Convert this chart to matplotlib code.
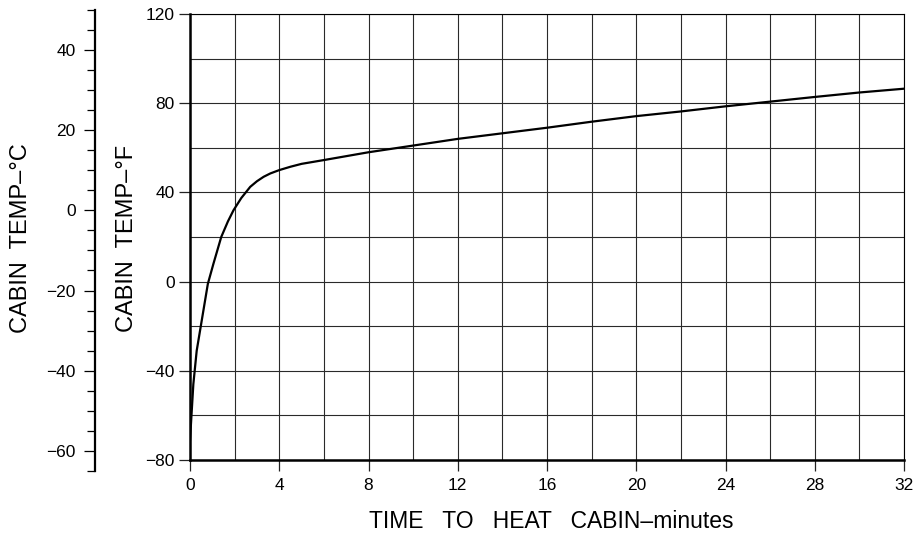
import numpy as np
import matplotlib.pyplot as plt
from matplotlib.ticker import MultipleLocator

plt.rcParams['font.family'] = ['Liberation Sans', 'DejaVu Sans']

# warm-up curve: time (min) vs cabin temperature (deg F)
minutes = [0, 0.15, 0.3, 0.5, 0.8, 1.05, 1.4, 1.7, 1.95, 2.3, 2.7, 3.0,
           3.3, 3.6, 4, 4.5, 5, 6, 8, 10, 12, 14, 16, 18, 20, 22, 24, 26,
           28, 30, 32]
temp_f = [-71, -46, -31, -19, -1, 8, 20, 27, 32, 37.5, 42.5, 45, 47,
          48.5, 50, 51.5, 52.8, 54.5, 58, 61, 64, 66.5, 69, 71.7, 74.2,
          76.3, 78.6, 80.7, 82.8, 84.8, 86.5]

x_ticks = [0, 4, 8, 12, 16, 20, 24, 28, 32]
f_ticks = [-80, -40, 0, 40, 80, 120]
c_ticks = [-60, -40, -20, 0, 20, 40]
c_range = (-65, 50)

W, H = 914, 540
f_lo, f_hi = -80, 120


def c2f(c):
    return c * 9 / 5 + 32


fig = plt.figure(figsize=(W / 100, H / 100), dpi=100)
ax_l, ax_b, ax_w, ax_h = 190 / W, 80 / H, 714 / W, 446 / H
ax = fig.add_axes([ax_l, ax_b, ax_w, ax_h])

ax.plot(minutes, temp_f, color='black', lw=1.6, zorder=3,
        solid_joinstyle='round')
ax.set_xlim(0, 32)
ax.set_ylim(f_lo, f_hi)
ax.set_xticks(x_ticks)
ax.set_yticks(f_ticks)
ax.xaxis.set_minor_locator(MultipleLocator(2))
ax.yaxis.set_minor_locator(MultipleLocator(20))
ax.grid(which='both', color='#2a2a2a', lw=0.8)
ax.tick_params(which='minor', length=0)
ax.tick_params(which='major', direction='out', length=8, width=0.9,
               labelsize=12.5, color='#222')
ax.tick_params(axis='x', pad=5)
ax.tick_params(axis='y', pad=3)
for side in ('top', 'right'):
    ax.spines[side].set_linewidth(0.8)
for side in ('left', 'bottom'):
    ax.spines[side].set_linewidth(1.8)

# Celsius scale drawn as a separate bare axis, aligned to the Fahrenheit one
def f_to_fig(f):
    return ax_b + (f - f_lo) / (f_hi - f_lo) * ax_h


cb = f_to_fig(c2f(c_range[0]))
ct = f_to_fig(c2f(c_range[1]))
cax = fig.add_axes([95 / W, cb, 0.0001, ct - cb])
cax.set_facecolor('none')
cax.set_ylim(*c_range)
for side in ('top', 'right', 'bottom'):
    cax.spines[side].set_visible(False)
cax.spines['left'].set_linewidth(1.6)
cax.set_xticks([])
cax.set_yticks(c_ticks)
cax.yaxis.set_minor_locator(MultipleLocator(5))
cax.tick_params(which='major', direction='out', length=8, width=0.9,
                labelsize=12.5, pad=6)
cax.tick_params(which='minor', direction='out', length=6, width=0.9)

fig.text(21 / W, 1 - 238 / H, 'CABIN  TEMP–°C', rotation=90,
         ha='center', va='center', fontsize=17)
fig.text(127 / W, 1 - 238 / H, 'CABIN  TEMP–°F', rotation=90,
         ha='center', va='center', fontsize=17)
fig.text(551 / W, 1 - 521 / H, 'TIME   TO   HEAT   CABIN–minutes',
         ha='center', va='center', fontsize=16.5)

fig.savefig('out.png', dpi=100)
